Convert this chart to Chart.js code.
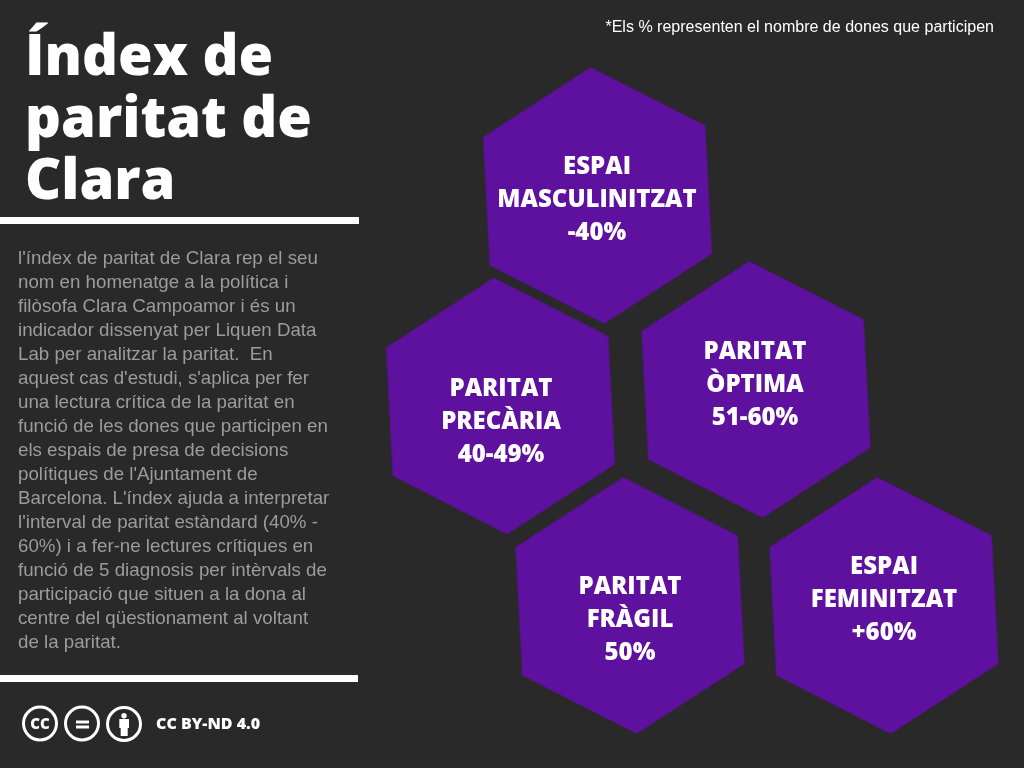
<!DOCTYPE html>
<html lang="ca">
<head>
<meta charset="utf-8">
<title>Índex de paritat de Clara</title>
<script src="https://cdn.jsdelivr.net/npm/chart.js@4"></script>
<style>
  html, body { margin: 0; padding: 0; background: #292929; }
  #page { position: relative; width: 1024px; height: 768px; overflow: hidden; background: #292929; }
  #chart { position: absolute; left: 0; top: 0; }
  #title {
    position: absolute; left: 25px; top: 22px; margin: 0;
    font: 800 56px/62px "Open Sans", sans-serif; color: #fff; letter-spacing: 0;
  }
  .rule { position: absolute; left: 0; height: 7px; background: #fff; }
  #intro {
    position: absolute; left: 18px; top: 246px; margin: 0; white-space: nowrap;
    font: 18.72px/24px "Liberation Sans", sans-serif; color: #9c9c9c;
  }
  #note {
    position: absolute; right: 30px; top: 17px; white-space: nowrap;
    font: 16.05px/18px "Liberation Sans", sans-serif; color: #fff;
  }
  #cc { position: absolute; left: 20px; top: 703px; }
  #licence {
    position: absolute; left: 156px; top: 713px; white-space: nowrap;
    font: 800 16px/20px "Open Sans", sans-serif; color: #fff;
  }
</style>
</head>
<body>
<div id="page">
  <canvas id="chart" width="1024" height="768"></canvas>
  <h1 id="title">Índex de<br>paritat de<br>Clara</h1>
  <div class="rule" style="top:217px;width:359px"></div>
  <p id="intro">l'índex de paritat de Clara rep el seu<br>nom en homenatge a la política i<br>filòsofa Clara Campoamor i és un<br>indicador dissenyat per Liquen Data<br>Lab per analitzar la paritat.&nbsp; En<br>aquest cas d'estudi, s'aplica per fer<br>una lectura crítica de la paritat en<br>funció de les dones que participen en<br>els espais de presa de decisions<br>polítiques de l'Ajuntament de<br>Barcelona. L'índex ajuda a interpretar<br>l'interval de paritat estàndard (40% -<br>60%) i a fer-ne lectures crítiques en<br>funció de 5 diagnosis per intèrvals de<br>participació que situen a la dona al<br>centre del qüestionament al voltant<br>de la paritat.</p>
  <div id="note">*Els % representen el nombre de dones que participen</div>
  <div class="rule" style="top:675px;width:358px"></div>
  <svg id="cc" width="124" height="42" viewBox="0 0 124 42">
    <g fill="none" stroke="#fff" stroke-width="3">
      <circle cx="20" cy="20.5" r="16.5"/>
      <circle cx="62" cy="20.5" r="16.5"/>
      <circle cx="104" cy="21" r="16.5"/>
    </g>
    <text x="20" y="25.7" text-anchor="middle" fill="#fff" font-family="Open Sans" font-weight="800" font-size="15">CC</text>
    <rect x="56" y="17.5" width="13" height="3" fill="#fff"/>
    <rect x="56" y="22.5" width="13" height="3" fill="#fff"/>
    <circle cx="104" cy="12.7" r="2.7" fill="#fff"/>
    <path d="M99.3 16h9.7v9h-1.3v8h-7v-8h-1.4z" fill="#fff"/>
  </svg>
  <div id="licence">CC BY-ND 4.0</div>
</div>
<script>
/* ── DATA ── */
const bands = ['ESPAI MASCULINITZAT', 'PARITAT PRECÀRIA', 'PARITAT ÒPTIMA', 'PARITAT FRÀGIL', 'ESPAI FEMINITZAT'];
const centerX = [597.5, 500.5, 756, 630, 884];
const centerY = [195.5, 406, 389.5, 605.5, 605.5];
const labelLines = [
  ['ESPAI', 'MASCULINITZAT', '-40%'],
  ['PARITAT', 'PRECÀRIA', '40-49%'],
  ['PARITAT', 'ÒPTIMA', '51-60%'],
  ['PARITAT', 'FRÀGIL', '50%'],
  ['ESPAI', 'FEMINITZAT', '+60%']
];
const labelX = [597, 501, 755, 630, 884];
const labelY = [200, 422, 385, 620, 600];

const PURPLE = '#5e109e';
const HEX_RADIUS = 128.5;

/* ── HEXAGON POINT STYLE ── */
function hexagonStyle(radius, color) {
  const c = document.createElement('canvas');
  c.width = c.height = Math.ceil(radius * 2) + 4;
  const g = c.getContext('2d');
  g.fillStyle = color;
  g.beginPath();
  for (let i = 0; i < 6; i++) {
    const a = -Math.PI / 2 + i * Math.PI / 3;
    const px = c.width / 2 + radius * Math.cos(a);
    const py = c.height / 2 + radius * Math.sin(a);
    if (i === 0) g.moveTo(px, py); else g.lineTo(px, py);
  }
  g.closePath();
  g.fill();
  return c;
}

/* ── LABELS INSIDE THE HEXAGONS ── */
const hexLabels = {
  id: 'hexLabels',
  afterDatasetsDraw(chart) {
    const { ctx, scales: { x, y } } = chart;
    ctx.save();
    ctx.fillStyle = '#fff';
    ctx.font = '800 24px "Open Sans", sans-serif';
    ctx.textAlign = 'center';
    ctx.textBaseline = 'middle';
    labelLines.forEach((lines, i) => {
      lines.forEach((line, j) => {
        ctx.fillText(line, x.getPixelForValue(labelX[i]), y.getPixelForValue(labelY[i] + (j - 1) * 33));
      });
    });
    ctx.restore();
  }
};

new Chart(document.getElementById('chart'), {
  type: 'scatter',
  data: {
    labels: bands,
    datasets: [{
      data: centerX.map((cx, i) => ({ x: cx, y: centerY[i] })),
      pointStyle: hexagonStyle(HEX_RADIUS, PURPLE),
      pointRotation: -3,
      pointRadius: HEX_RADIUS,
      pointHoverRadius: HEX_RADIUS,
      clip: false
    }]
  },
  options: {
    responsive: false,
    animation: false,
    events: [],
    layout: { padding: 0, autoPadding: false },
    plugins: { legend: { display: false }, tooltip: { enabled: false } },
    scales: {
      x: { type: 'linear', min: 0, max: 1024, display: false },
      y: { type: 'linear', min: 0, max: 768, reverse: true, display: false }
    }
  },
  plugins: [hexLabels]
});
</script>
</body>
</html>
